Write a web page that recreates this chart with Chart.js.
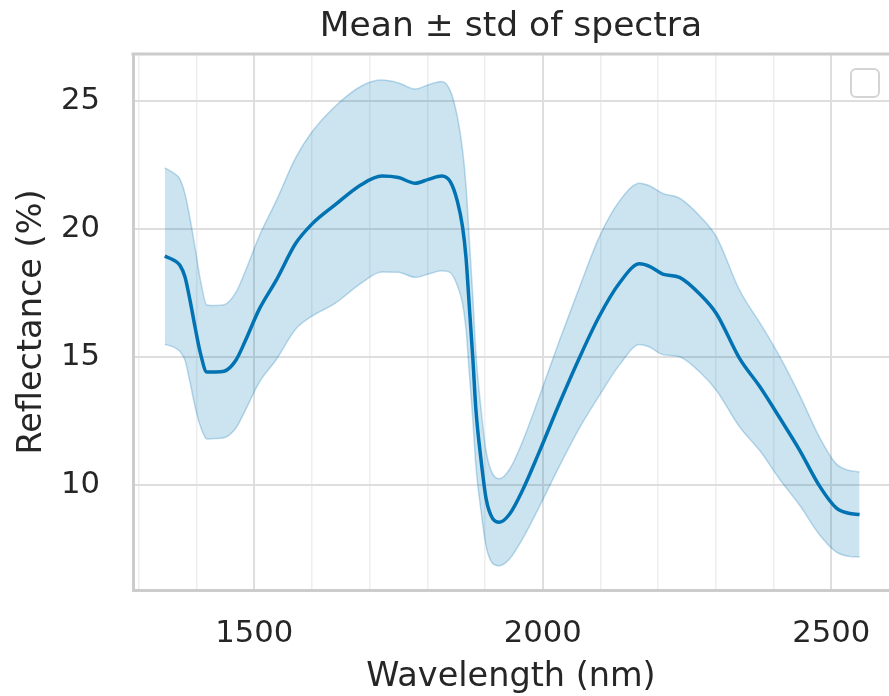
<!DOCTYPE html>
<html>
<head>
<meta charset="utf-8">
<script src="https://cdn.jsdelivr.net/npm/chart.js@4/dist/chart.umd.min.js"></script>
<style>
  body { margin: 0; background: #fff; overflow: hidden; }
</style>
</head>
<body>
<canvas id="spectraChart" width="889" height="696"></canvas>
<script>
// wavelength grid (nm)
const wavelengths = [1345, 1360, 1371, 1380, 1389, 1398, 1407, 1418, 1433, 1448, 1468, 1485, 1508, 1538, 1572,
    1600, 1640, 1686, 1721, 1750, 1779, 1802, 1825, 1840, 1852, 1861, 1867, 1873, 1879, 1884, 1893, 1902,
    1913, 1925, 1942, 1965, 1994, 2029, 2064, 2098, 2133, 2168, 2185, 2208, 2237, 2272, 2301, 2341, 2376,
    2410, 2445, 2480, 2509, 2530, 2549];
// mean reflectance (%)
const meanRefl = [18.95, 18.8, 18.6, 18.14, 17.2, 16.12, 15.14, 14.42, 14.42, 14.45, 14.87, 15.66, 16.84, 18.0, 19.45,
    20.2, 20.95, 21.75, 22.08, 22.02, 21.8, 21.95, 22.08, 21.85, 21.1, 20.1, 18.9, 16.9, 14.9, 13.0, 11.0, 9.45,
    8.7, 8.55, 8.85, 9.8, 11.3, 13.2, 15.0, 16.6, 17.9, 18.65, 18.55, 18.25, 18.12, 17.47, 16.7, 14.95, 13.85,
    12.65, 11.37, 9.95, 9.1, 8.9, 8.85];
// standard deviation (%)
const stdRefl = [3.45, 3.4, 3.37, 3.25, 3.2, 3.1, 2.85, 2.62, 2.6, 2.6, 2.65, 2.72, 2.85, 3.1, 3.35,
    3.6, 3.85, 3.85, 3.75, 3.7, 3.68, 3.7, 3.7, 3.55, 3.3, 3.0, 2.8, 2.6, 2.4, 2.2, 2.0, 1.85,
    1.75, 1.7, 1.75, 1.9, 2.15, 2.45, 2.75, 3.1, 3.2, 3.15, 3.15, 3.15, 3.1, 3.05, 3.0, 2.67, 2.5,
    2.4, 2.15, 1.9, 1.72, 1.68, 1.66];

const xMajorTicks = [1500, 2000, 2500];
const xMinorTicks = [1300, 1400, 1600, 1700, 1800, 1900, 2100, 2200, 2300, 2400];
const yTicks = [10, 15, 20, 25];

const blue = '#0173B2';
const textColor = '#262626';
const fontFamily = '"DejaVu Sans", sans-serif';

const meanPts = wavelengths.map((w, i) => ({x: w, y: meanRefl[i]}));
const upperPts = wavelengths.map((w, i) => ({x: w, y: meanRefl[i] + stdRefl[i]}));
const lowerPts = wavelengths.map((w, i) => ({x: w, y: meanRefl[i] - stdRefl[i]}));

// top spine + the empty legend frame
const frameExtras = {
    id: 'frameExtras',
    afterDatasetsDraw(chart) {
        const {ctx, chartArea: a} = chart;
        ctx.save();
        ctx.strokeStyle = '#cccccc';
        ctx.lineWidth = 3;
        ctx.beginPath();
        ctx.moveTo(a.left - 1.5, a.top);
        ctx.lineTo(a.right, a.top);
        ctx.stroke();

        ctx.lineWidth = 2;
        ctx.fillStyle = 'rgba(255,255,255,0.8)';
        ctx.strokeStyle = '#d4d4d4';
        ctx.beginPath();
        ctx.roundRect(a.right - 38, a.top + 15, 28, 28, 5);
        ctx.fill();
        ctx.stroke();
        ctx.restore();
    }
};

const ctx = document.getElementById('spectraChart').getContext('2d');
const spectraChart = new Chart(ctx, {
    type: 'line',
    data: {
        datasets: [{
            label: 'mean',
            data: meanPts,
            borderColor: blue,
            borderWidth: 3.5,
            pointRadius: 0,
            cubicInterpolationMode: 'monotone',
            fill: false,
            order: 0
        }, {
            label: 'mean + std',
            data: upperPts,
            borderColor: 'rgba(1,115,178,0.25)',
            borderWidth: 1.5,
            backgroundColor: 'rgba(1,115,178,0.2)',
            pointRadius: 0,
            cubicInterpolationMode: 'monotone',
            fill: '+1',
            order: 1
        }, {
            label: 'mean - std',
            data: lowerPts,
            borderColor: 'rgba(1,115,178,0.25)',
            borderWidth: 1.5,
            pointRadius: 0,
            cubicInterpolationMode: 'monotone',
            fill: false,
            order: 2
        }]
    },
    options: {
        responsive: false,
        devicePixelRatio: 1,
        animation: false,
        events: [],
        layout: { padding: 0 },
        plugins: {
            legend: { display: false },
            tooltip: { enabled: false },
            title: {
                display: true,
                fullSize: false,
                text: 'Mean ± std of spectra',
                color: textColor,
                font: { family: fontFamily, size: 34.5, weight: 'normal', lineHeight: 1.2 },
                padding: { top: 6.5, bottom: 6.1 }
            }
        },
        scales: {
            x: {
                type: 'linear',
                min: 1290,
                max: 2600,
                afterBuildTicks: (scale) => {
                    scale.ticks = xMinorTicks.concat(xMajorTicks).sort((a, b) => a - b).map(v => ({value: v}));
                },
                afterFit: (scale) => { scale.height = 106; },
                ticks: {
                    autoSkip: false,
                    maxRotation: 0,
                    minRotation: 0,
                    padding: 3,
                    color: textColor,
                    font: { family: fontFamily, size: 30.7 },
                    callback: (v) => xMajorTicks.includes(v) ? String(v) : ''
                },
                grid: {
                    color: (c) => xMajorTicks.includes(c.tick && c.tick.value) ? '#dedede' : '#eeeeee',
                    lineWidth: (c) => xMajorTicks.includes(c.tick && c.tick.value) ? 2 : 1.5,
                    drawTicks: true,
                    tickLength: 23,
                    tickColor: 'rgba(0,0,0,0)'
                },
                border: { color: '#cccccc', width: 3 },
                title: {
                    display: true,
                    text: 'Wavelength (nm)',
                    color: textColor,
                    font: { family: fontFamily, size: 33.5, lineHeight: 1 },
                    padding: { top: 0, bottom: 2 }
                }
            },
            y: {
                type: 'linear',
                min: 5.9,
                max: 26.85,
                afterBuildTicks: (scale) => {
                    scale.ticks = yTicks.map(v => ({value: v}));
                },
                afterFit: (scale) => { scale.width = 133; },
                ticks: {
                    padding: 3,
                    color: textColor,
                    font: { family: fontFamily, size: 30.7 }
                },
                grid: {
                    color: '#dedede',
                    lineWidth: 2,
                    drawTicks: true,
                    tickLength: 30,
                    tickColor: 'rgba(0,0,0,0)'
                },
                border: { color: '#cccccc', width: 3 },
                title: {
                    display: true,
                    text: 'Reflectance (%)',
                    color: textColor,
                    font: { family: fontFamily, size: 33.5, lineHeight: 1.2 },
                    padding: { top: 12, bottom: 0 }
                }
            }
        }
    },
    plugins: [frameExtras]
});
</script>
</body>
</html>
